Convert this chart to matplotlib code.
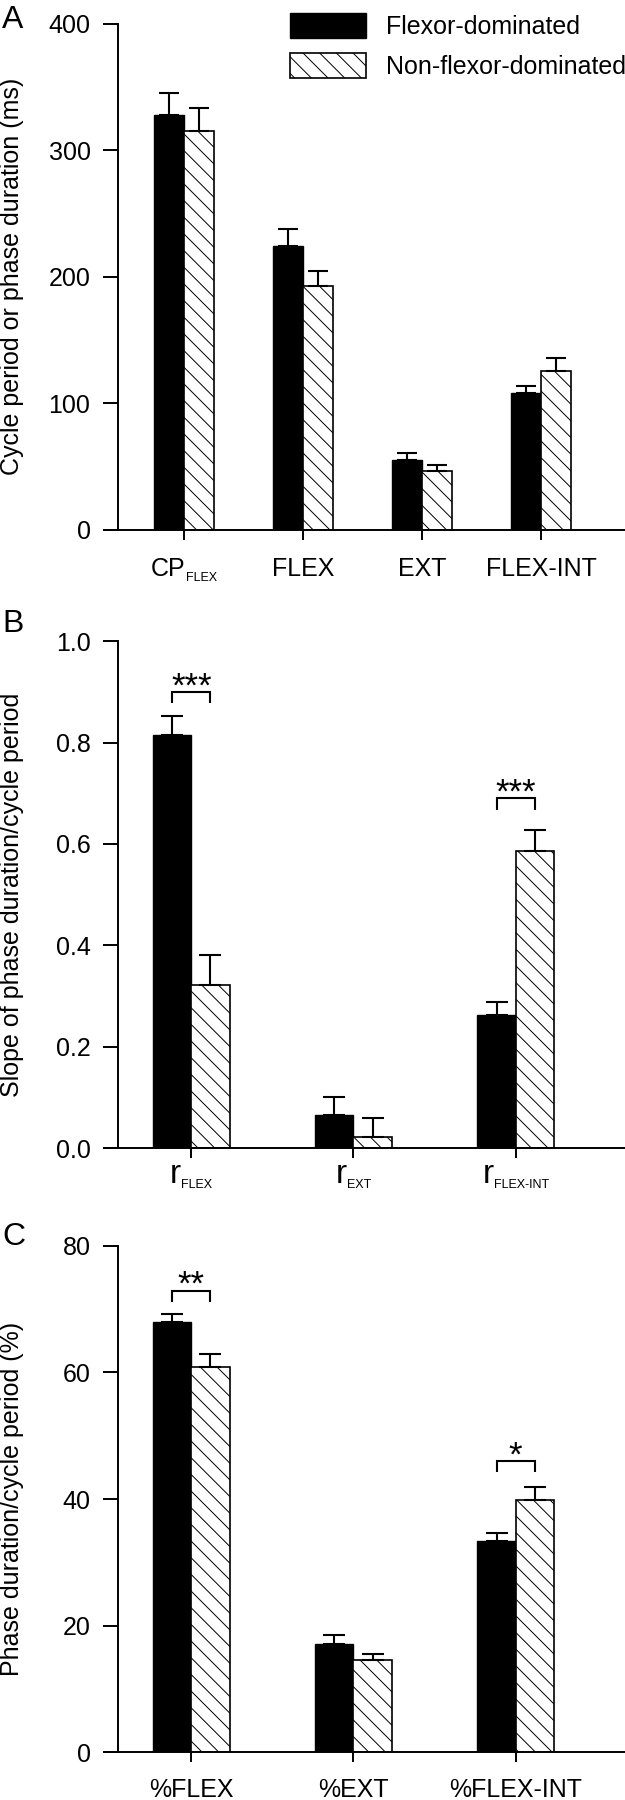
import matplotlib
matplotlib.use('Agg')
import matplotlib.pyplot as plt
from matplotlib.patches import Patch
import numpy as np

plt.rcParams['font.family'] = ['Liberation Sans', 'DejaVu Sans']
plt.rcParams['hatch.linewidth'] = 0.7

# A - cycle period / phase durations (ms)
a_names = ['CP', 'FLEX', 'EXT', 'FLEX-INT']
a_subs = ['FLEX', '', '', '']
a_flex = [328.0, 224.0, 55.6, 108.2]
a_flex_err = [17.2, 13.9, 5.4, 5.4]
a_non = [315.4, 192.7, 46.8, 125.7]
a_non_err = [17.8, 12.1, 4.6, 10.2]
a_ticks = [0, 100, 200, 300, 400]

# B - slopes
b_names = ['r', 'r', 'r']
b_subs = ['FLEX', 'EXT', 'FLEX-INT']
b_flex = [0.816, 0.066, 0.263]
b_flex_err = [0.037, 0.034, 0.026]
b_non = [0.322, 0.022, 0.586]
b_non_err = [0.059, 0.037, 0.042]
b_ticks = [0.0, 0.2, 0.4, 0.6, 0.8, 1.0]
b_sig = [(0, '***', 0.900), (2, '***', 0.690)]

# C - phase duration as % of cycle
c_names = ['%FLEX', '%EXT', '%FLEX-INT']
c_subs = ['', '', '']
c_flex = [67.9, 17.05, 33.3]
c_flex_err = [1.3, 1.45, 1.4]
c_non = [60.9, 14.6, 39.8]
c_non_err = [2.0, 0.85, 2.1]
c_ticks = [0, 20, 40, 60, 80]
c_sig = [(0, '**', 72.9), (2, '*', 46.0)]

FS = 18
HATCH = '\\\\'

fig = plt.figure(figsize=(6.25, 18), dpi=100)
rend = fig.canvas.get_renderer()


def tick_label(ax, x, main, sub, size, sub_size, drop):
    # main text + lowered small subscript, centred on the tick as one piece
    t1 = ax.annotate(main, (x, 0), xycoords=('data', 'axes fraction'), xytext=(0, -drop),
                     textcoords='offset points', ha='left', va='baseline', fontsize=size)
    w1 = t1.get_window_extent(rend).width * 72 / fig.dpi
    w2 = 0
    if sub:
        t2 = ax.annotate(sub, (x, 0), xycoords=('data', 'axes fraction'), xytext=(0, -drop - 3.6),
                         textcoords='offset points', ha='left', va='baseline', fontsize=sub_size)
        w2 = t2.get_window_extent(rend).width * 72 / fig.dpi
        t2.xyann = (-(w1 + w2) / 2 + w1, -drop - 3.6)
    t1.xyann = (-(w1 + w2) / 2, -drop)


def panel(rect, xlim, w, cap, names, subs, main_size, drop, flex, flex_err, non, non_err,
          ticks, fmt, ylabel, letter, letter_y, sig=(), leg=0):
    ax = fig.add_axes(rect)
    x = np.arange(len(flex))
    n = len(flex)
    ax.bar(x, flex, -w, align='edge', color='black', edgecolor='black', lw=1, zorder=2)
    ax.bar(x, non, w, align='edge', color='white', edgecolor='black', hatch=HATCH, lw=1.2, zorder=2)
    ax.errorbar(x - w / 2, flex, yerr=[np.zeros(n), flex_err], fmt='none', ecolor='black',
                elinewidth=1.5, capsize=cap, capthick=1.5, zorder=3)
    ax.errorbar(x + w / 2, non, yerr=[np.zeros(n), non_err], fmt='none', ecolor='black',
                elinewidth=1.5, capsize=cap, capthick=1.5, zorder=3)
    for i, stars, top in sig:
        x0, x1 = i - w / 2, i + w / 2
        ax.plot([x0, x0, x1, x1], [top - leg, top, top, top - leg], color='black', lw=1.5,
                solid_joinstyle='miter', solid_capstyle='butt')
        ax.annotate(stars, ((x0 + x1) / 2, top), xytext=(0, -3), textcoords='offset points',
                    ha='center', va='baseline', fontsize=25)
    ax.set_xlim(*xlim)
    ax.set_ylim(ticks[0], ticks[-1])
    ax.set_xticks(x)
    ax.set_xticklabels([])
    ax.set_yticks(ticks)
    ax.set_yticklabels([fmt.format(t) for t in ticks])
    for s in ['top', 'right', 'bottom']:
        ax.spines[s].set_visible(False)
    ax.spines['left'].set_linewidth(1.4)
    # x axis line runs out to the end of the y ticks
    ax.plot([-15 / 507, 1], [0, 0], transform=ax.transAxes, clip_on=False, color='black',
            lw=1.4, solid_capstyle='butt', zorder=5)
    ax.tick_params(axis='y', length=10.8, width=1.4, pad=9, labelsize=FS)
    ax.tick_params(axis='x', length=7.4, width=1.4)
    for xi, m, s in zip(x, names, subs):
        tick_label(ax, xi, m, s, main_size, 9, drop)
    fig.text(12 / 625, rect[1] + rect[3] / 2, ylabel, rotation=90, ha='center', va='center', fontsize=FS)
    fig.text(2 / 625, letter_y, letter, ha='left', va='baseline', fontsize=23)
    return ax


ax_a = panel([0.1888, 0.70556, 0.8112, 0.28128], (-0.555, 3.706), 0.255, 7, a_names, a_subs, FS, 33.1,
             a_flex, a_flex_err, a_non, a_non_err, a_ticks, '{:d}',
             'Cycle period or phase duration (ms)', 'A', 1 - 28 / 1800)
panel([0.1888, 0.36222, 0.8112, 0.2815], (-0.452, 2.674), 0.236, 8, b_names, b_subs, 24, 25.4,
      b_flex, b_flex_err, b_non, b_non_err, b_ticks, '{:.1f}',
      'Slope of phase duration/cycle period', 'B', 1 - 632 / 1800, b_sig, 0.022)
panel([0.1888, 0.02656, 0.8112, 0.28128], (-0.452, 2.674), 0.236, 8, c_names, c_subs, FS, 32.4,
      c_flex, c_flex_err, c_non, c_non_err, c_ticks, '{:d}',
      'Phase duration/cycle period (%)', 'C', 1 - 1245 / 1800, c_sig, 1.8)

handles = [Patch(facecolor='black', edgecolor='black'),
           Patch(facecolor='white', edgecolor='black', hatch=HATCH, lw=1.2)]
ax_a.legend(handles, ['Flexor-dominated', 'Non-flexor-dominated'], loc='upper left',
            bbox_to_anchor=(290 / 625, 1 - 13.3 / 1800), bbox_transform=fig.transFigure,
            frameon=False, fontsize=FS, handlelength=3.04, handleheight=1.16,
            handletextpad=0.8, labelspacing=0.55, borderpad=0, borderaxespad=0)

fig.savefig('out.png', dpi=100)
